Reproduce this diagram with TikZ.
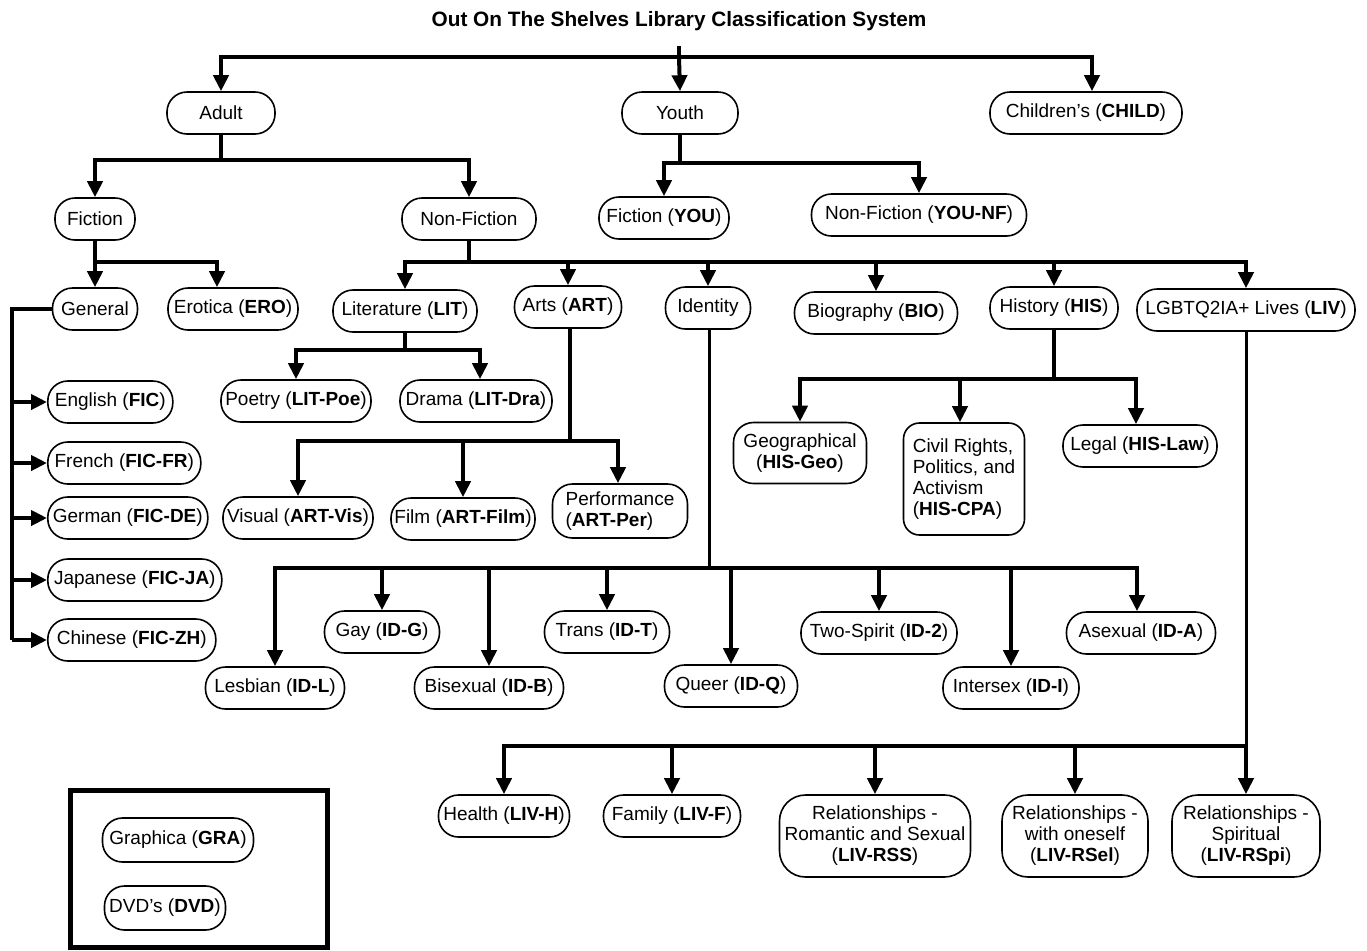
\documentclass[tikz,border=0pt]{standalone}
\usepackage{fontspec}
\setmainfont{Liberation Sans}
\usetikzlibrary{arrows.meta,calc}
\begin{document}
\begin{tikzpicture}[x=0.5pt,y=-0.5pt,
  box/.style={draw, line width=0.8pt, rounded corners=10pt, minimum height=21pt, inner sep=1.5pt, font=\fontsize{9.5}{10.5}\selectfont, align=center},
  tallbox/.style={box, rounded corners=13pt},
  wire/.style={line width=2pt},
  thinwire/.style={line width=1.5pt},
  arr/.style={line width=2pt, -{Triangle[length=8pt,width=7.5pt]}},
]
\useasboundingbox (0,0) rectangle (1367,950);

\node[font=\fontsize{10.4}{12}\selectfont\bfseries] (title) at (679,21) {Out On The Shelves Library Classification System};

% level 1
\node[box, minimum width=54pt] (adult) at (221,113) {Adult};
\node[box, minimum width=58pt] (youth) at (680,113) {Youth};
\node[box, minimum width=96pt] (child) at (1086,113) {Children's (\textbf{CHILD})};

% level 2
\node[box, minimum width=40pt] (fic) at (95,219) {Fiction};
\node[box, minimum width=67pt] (nf) at (469,219) {Non-Fiction};
\node[box, minimum width=65pt] (fyou) at (664,218) {Fiction (\textbf{YOU})};
\node[box, minimum width=107.5pt] (nfyou) at (919,215) {Non-Fiction (\textbf{YOU-NF})};

% fiction children
\node[box, minimum width=42.5pt] (gen) at (95,309) {General};
\node[box, minimum width=65pt] (ero) at (233,309) {Erotica (\textbf{ERO})};

\node[box, minimum width=62.5pt, anchor=west] (eng) at (47,402) {English (\textbf{FIC})};
\node[box, minimum width=76.5pt, anchor=west] (fre) at (47,463) {French (\textbf{FIC-FR})};
\node[box, minimum width=80pt, anchor=west] (ger) at (47,518) {German (\textbf{FIC-DE})};
\node[box, minimum width=87pt, anchor=west] (jap) at (47,580) {Japanese (\textbf{FIC-JA})};
\node[box, minimum width=84pt, anchor=west] (chi) at (47,640) {Chinese (\textbf{FIC-ZH})};

% non-fiction children
\node[box, minimum width=72pt] (lit) at (405,311) {Literature (\textbf{LIT})};
\node[box, minimum width=53.5pt] (art) at (568,307) {Arts (\textbf{ART})};
\node[box, minimum width=42.5pt] (ident) at (708,308) {Identity};
\node[box, minimum width=81.5pt] (bio) at (876,313) {Biography (\textbf{BIO})};
\node[box, minimum width=64pt] (his) at (1054,308) {History (\textbf{HIS})};
\node[box, minimum width=109pt] (liv) at (1246,310) {LGBTQ2IA+ Lives (\textbf{LIV})};

% literature
\node[box, minimum width=75pt] (poe) at (296,401) {Poetry (\textbf{LIT-Poe})};
\node[box, minimum width=76pt] (dra) at (476,401) {Drama (\textbf{LIT-Dra})};

% arts
\node[box, minimum width=75pt] (vis) at (298,518) {Visual (\textbf{ART-Vis})};
\node[box, minimum width=72pt] (film) at (463,519) {Film (\textbf{ART-Film})};
\node[box, minimum width=67.5pt, minimum height=27pt, align=left] (perf) at (620,511) {Performance\\(\textbf{ART-Per})};

% history
\node[box, minimum width=66.5pt, minimum height=30.5pt] (geo) at (800,453) {Geographical\\(\textbf{HIS-Geo})};
\node[box, rounded corners=8pt, minimum width=60.5pt, minimum height=56pt, align=left] (cpa) at (964,479) {Civil Rights,\\Politics, and\\Activism\\(\textbf{HIS-CPA})};
\node[box, minimum width=77pt] (law) at (1140,446) {Legal (\textbf{HIS-Law})};

% identity
\node[box, minimum width=69.5pt] (les) at (275,688) {Lesbian (\textbf{ID-L})};
\node[box, minimum width=57.5pt] (gay) at (382,632) {Gay (\textbf{ID-G})};
\node[box, minimum width=74.5pt] (bis) at (489,688) {Bisexual (\textbf{ID-B})};
\node[box, minimum width=62.5pt] (tra) at (607,632) {Trans (\textbf{ID-T})};
\node[box, minimum width=66.5pt] (que) at (731,686) {Queer (\textbf{ID-Q})};
\node[box, minimum width=78pt] (two) at (879,633) {Two-Spirit (\textbf{ID-2})};
\node[box, minimum width=68pt] (int) at (1011,688) {Intersex (\textbf{ID-I})};
\node[box, minimum width=74.5pt] (ase) at (1141,633) {Asexual (\textbf{ID-A})};

% lives
\node[box, minimum width=65.5pt] (hea) at (504,816) {Health (\textbf{LIV-H})};
\node[box, minimum width=68.5pt] (fam) at (672,816) {Family (\textbf{LIV-F})};
\node[tallbox, minimum width=95.5pt, minimum height=41pt] (rss) at (875,836) {Relationships -\\Romantic and Sexual\\(\textbf{LIV-RSS})};
\node[tallbox, minimum width=73pt, minimum height=41pt] (rsel) at (1075,836) {Relationships -\\with oneself\\(\textbf{LIV-RSel})};
\node[tallbox, minimum width=74pt, minimum height=41pt] (rspi) at (1246,836) {Relationships -\\Spiritual\\(\textbf{LIV-RSpi})};

% legend
\node[draw, line width=2.5pt, minimum width=128.5pt, minimum height=78.5pt, inner sep=0pt] (legend) at (198.5,868.5) {};
\node[box, minimum width=75.5pt, minimum height=22pt] (gra) at (178,840) {Graphica (\textbf{GRA})};
\node[box, minimum width=60.5pt, minimum height=22pt] (dvd) at (165,908) {DVD's (\textbf{DVD})};

% ---------- connectors ----------
\coordinate (t0) at (679,57);
\draw[wire] ([yshift=-4pt]title.south) -- (t0);
\draw[arr] (t0) -| (adult.north);
\draw[arr] (t0) -- (youth.north);
\draw[arr] (t0) -| ([xshift=3pt]child.north);

\coordinate (a0) at (221,160);
\draw[wire] (adult.south) -- (a0);
\draw[arr] (a0) -| (fic.north);
\draw[arr] (a0) -| (nf.north);

\coordinate (y0) at (680,163);
\draw[wire] (youth.south) -- (y0);
\draw[arr] (y0) -| (fyou.north);
\draw[arr] (y0) -| (nfyou.north);

\coordinate (f0) at (95,262);
\draw[wire] (fic.south) -- (f0);
\draw[arr] (f0) -| (gen.north);
\draw[arr] (f0) -| ([xshift=-8pt]ero.north);

\coordinate (g0) at (12,309);
\draw[wire] (gen.west) -- (g0) -- (g0 |- chi.west);
\draw[arr] (g0 |- eng.west) -- (eng.west);
\draw[arr] (g0 |- fre.west) -- (fre.west);
\draw[arr] (g0 |- ger.west) -- (ger.west);
\draw[arr] (g0 |- jap.west) -- (jap.west);
\draw[arr] (g0 |- chi.west) -- (chi.west);

\coordinate (n0) at (469,262);
\draw[wire] (nf.south) -- (n0);
\draw[arr] (n0) -| (lit.north);
\draw[arr] (n0) -| (art.north);
\draw[arr] (n0) -| (ident.north);
\draw[arr] (n0) -| (bio.north);
\draw[arr] (n0) -| (his.north);
\draw[arr] (n0) -| (liv.north);

\coordinate (l0) at (405,350);
\draw[wire] (lit.south) -- (l0);
\draw[arr] (l0) -| (poe.north);
\draw[arr] (l0) -| ([xshift=2pt]dra.north);

\coordinate (r0) at (570,441);
\draw[wire] ([xshift=1pt]art.south) -- (r0);
\draw[arr] (r0) -| (vis.north);
\draw[arr] (r0) -| (film.north);
\draw[arr] (r0) -| ([xshift=-1pt]perf.north);

\coordinate (h0) at (1054,379);
\draw[wire] (his.south) -- (h0);
\draw[arr] (h0) -| (geo.north);
\draw[arr] (h0) -| ([xshift=-2pt]cpa.north);
\draw[arr] (h0) -| ([xshift=-2pt]law.north);

\coordinate (i0) at (709,568);
\draw[thinwire] ([xshift=0.5pt]ident.south) -- (i0);
\draw[arr] (i0) -| (les.north);
\draw[arr] (i0) -| (gay.north);
\draw[arr] (i0) -| (bis.north);
\draw[arr] (i0) -| (tra.north);
\draw[arr] (i0) -| (que.north);
\draw[arr] (i0) -| (two.north);
\draw[arr] (i0) -| (int.north);
\draw[arr] (i0) -| ([xshift=-2pt]ase.north);

\coordinate (v0) at (1246,746);
\draw[thinwire] (liv.south) -- (v0);
\draw[arr] (v0) -| (hea.north);
\draw[arr] (v0) -| (fam.north);
\draw[arr] (v0) -| (rss.north);
\draw[arr] (v0) -| (rsel.north);
\draw[arr] (v0) -- (rspi.north);
\end{tikzpicture}
\end{document}
